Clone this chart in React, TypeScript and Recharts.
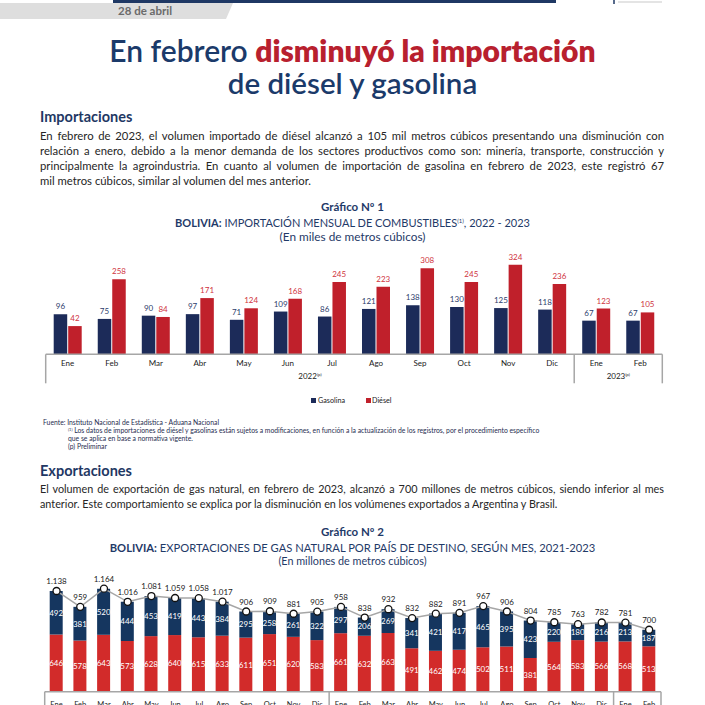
import React from "react";
import {
  BarChart,
  ComposedChart,
  Bar,
  Line,
  XAxis,
  YAxis,
  LabelList,
} from "recharts";

// Gráfico 1: importación mensual de combustibles (miles de m3)
const mesesImp = ["Ene", "Feb", "Mar", "Abr", "May", "Jun", "Jul", "Ago", "Sep", "Oct", "Nov", "Dic", "Ene", "Feb"];
const gasolina = [96, 75, 90, 97, 71, 109, 86, 121, 138, 130, 125, 118, 67, 67];
const diesel = [42, 258, 84, 171, 124, 168, 245, 223, 308, 245, 324, 236, 123, 105];
const aniosImp = [
  { label: "2022", n: 12, p: true },
  { label: "2023", n: 2, p: true },
];

// Gráfico 2: exportación de gas natural por destino (millones de m3)
const mesesExp = [
  "Ene", "Feb", "Mar", "Abr", "May", "Jun", "Jul", "Ago", "Sep", "Oct", "Nov", "Dic",
  "Ene", "Feb", "Mar", "Abr", "May", "Jun", "Jul", "Ago", "Sep", "Oct", "Nov", "Dic",
  "Ene", "Feb",
];
const brasil = [646, 578, 643, 573, 628, 640, 615, 633, 611, 651, 620, 583, 661, 632, 663, 491, 462, 474, 502, 511, 381, 564, 583, 566, 568, 513];
const argentina = [492, 381, 520, 444, 453, 419, 443, 384, 295, 258, 261, 322, 297, 206, 269, 341, 421, 417, 465, 395, 423, 220, 180, 216, 213, 187];
const totalExp = [1138, 959, 1164, 1016, 1081, 1059, 1058, 1017, 906, 909, 881, 905, 958, 838, 932, 832, 882, 891, 967, 906, 804, 785, 763, 782, 781, 700];
const aniosExp = [
  { label: "2021", n: 12, p: false },
  { label: "2022", n: 12, p: true },
  { label: "2023", n: 2, p: true },
];

const NAVY = "#1f3a68";
const RED = "#b8202e";
const FLOOR = -88; // eje del gráfico 1 no parte de cero

const impData = mesesImp.map((mes, i) => ({ mes, gasolina: gasolina[i], diesel: diesel[i] }));
const expData = mesesExp.map((mes, i) => ({
  mes,
  brasil: brasil[i],
  argentina: argentina[i],
  total: totalExp[i],
}));

const fmtMiles = (v: any) => {
  const n = Number(v);
  return n >= 1000 ? `${Math.floor(n / 1000)}.${String(n % 1000).padStart(3, "0")}` : String(n);
};

function GroupTick(props: any) {
  const { x, y, index, payload, groups, bw, boxH, monthDy, yearDy, fs } = props;
  const count = groups.reduce((s: number, g: any) => s + g.n, 0);
  const els: any[] = [];
  let start = 0;
  groups.forEach((g: any, gi: number) => {
    if (index === start) {
      els.push(
        <line key={"l" + gi} x1={x - bw / 2} x2={x - bw / 2} y1={y} y2={y + boxH} stroke="#a6a6a6" strokeWidth={1.5} />
      );
      els.push(
        <text key={"y" + gi} x={x - bw / 2 + (g.n * bw) / 2} y={y + yearDy} textAnchor="middle" fontSize={fs} fill="#222">
          {g.label}
          {g.p ? (
            <tspan fontSize={fs * 0.55} dy={-3}>
              (p)
            </tspan>
          ) : null}
        </text>
      );
    }
    start += g.n;
  });
  if (index === count - 1) {
    els.push(<line key="r" x1={x + bw / 2} x2={x + bw / 2} y1={y} y2={y + boxH} stroke="#a6a6a6" strokeWidth={1.5} />);
  }
  return (
    <g>
      {els}
      <text x={x} y={y + monthDy} textAnchor="middle" fontSize={fs} fill="#222">
        {payload.value}
      </text>
    </g>
  );
}

// texto posicionado por su línea base
function T({ b, fs, left, center, children, style }: any) {
  const s: any = {
    position: "absolute",
    top: b - 0.887 * fs,
    fontSize: fs,
    lineHeight: `${fs}px`,
    whiteSpace: "nowrap",
    ...style,
  };
  if (center) {
    s.left = 0;
    s.width = 705;
    s.textAlign = "center";
  } else {
    s.left = left;
  }
  return <div style={s}>{children}</div>;
}

function Sup({ fs, up, children }: any) {
  return <span style={{ fontSize: fs, position: "relative", top: -up }}>{children}</span>;
}

function Jline({ b, fs, text, last }: any) {
  return (
    <div
      style={{
        position: "absolute",
        left: 40,
        width: 624,
        top: b - 0.887 * fs,
        fontSize: fs,
        lineHeight: `${fs}px`,
        color: "#262626",
        textAlign: last ? "left" : "justify",
        textAlignLast: last ? "left" : "justify",
      }}
    >
      {text}
    </div>
  );
}

const p1 = [
  "En febrero de 2023, el volumen importado de diésel alcanzó a 105 mil metros cúbicos presentando una disminución con",
  "relación a enero, debido a la menor demanda de los sectores productivos como son: minería, transporte, construcción y",
  "principalmente la agroindustria. En cuanto al volumen de importación de gasolina en febrero de 2023, este registró 67",
  "mil metros cúbicos, similar al volumen del mes anterior.",
];
const p2 = [
  "El volumen de exportación de gas natural, en febrero de 2023, alcanzó a 700 millones de metros cúbicos, siendo inferior al mes",
  "anterior. Este comportamiento se explica por la disminución en los volúmenes exportados a Argentina y Brasil.",
];

export default function App() {
  const c1 = { left: 45.7, right: 42.7 };
  const bw1 = (705 - c1.left - c1.right) / mesesImp.length;
  const c2 = { left: 44.7, right: 44 };
  const bw2 = (705 - c2.left - c2.right) / mesesExp.length;

  return (
    <div
      style={{
        position: "fixed",
        left: 0,
        top: 0,
        width: 705,
        height: 705,
        overflow: "hidden",
        background: "#fff",
        fontFamily: "Lato, sans-serif",
        color: NAVY,
      }}
    >
      {/* cabecera */}
      <div style={{ position: "absolute", left: 113, top: 0, width: 443, height: 3, background: "#1f3864" }} />
      <svg width={705} height={22} style={{ position: "absolute", left: 0, top: 0 }}>
        <polygon points="0,3 233,3 226,19 0,19" fill="#dedede" />
        <line x1={614} x2={614} y1={0} y2={4} stroke="#1f3864" strokeWidth={1.5} />
        <line x1={618} x2={662} y1={2} y2={2} stroke="#c9c9c9" strokeWidth={1} />
      </svg>
      <T b={15.5} fs={11.5} left={118} style={{ fontWeight: 700, color: "#6b6b6b" }}>
        28 de abril
      </T>

      <T b={62} fs={30} center>
        <span style={{ color: "#1b3a6a", fontWeight: 600 }}>En febrero </span>
        <span style={{ color: RED, fontWeight: 800 }}>disminuyó la importación</span>
      </T>
      <T b={94} fs={29.5} center style={{ color: "#1b3a6a", fontWeight: 600 }}>
        de diésel y gasolina
      </T>

      <T b={123} fs={14.5} left={40} style={{ fontWeight: 700, color: "#1f3864" }}>
        Importaciones
      </T>
      {p1.map((t, i) => (
        <Jline key={i} b={140 + i * 15} fs={11.3} text={t} last={i === p1.length - 1} />
      ))}

      <T b={211.5} fs={11.5} center style={{ fontWeight: 700 }}>
        Gráfico Nº 1
      </T>
      <T b={226.5} fs={11} center>
        <b>BOLIVIA:</b> IMPORTACIÓN MENSUAL DE COMBUSTIBLES
        <Sup fs={6} up={4}>(1)</Sup>, 2022 - 2023
      </T>
      <T b={241.5} fs={11.8} center>
        (En miles de metros cúbicos)
      </T>

      <div style={{ position: "absolute", left: 0, top: 245 }}>
        <BarChart
          width={705}
          height={145}
          data={impData}
          margin={{ top: 16.4, right: c1.right, bottom: 0, left: c1.left }}
          barSize={13.5}
          barGap={1}
        >
          <XAxis
            dataKey="mes"
            height={35.7}
            interval={0}
            tickSize={0}
            tickMargin={0}
            axisLine={{ stroke: "#a6a6a6", strokeWidth: 1.5 }}
            tick={(p: any) => (
              <GroupTick {...p} groups={aniosImp} bw={bw1} boxH={29} monthDy={12} yearDy={25} fs={8} />
            )}
          />
          <YAxis hide domain={[FLOOR, 340]} />
          <Bar dataKey={(d: any) => [FLOOR, d.gasolina]} fill="#1c2b59" isAnimationActive={false}>
            <LabelList dataKey="gasolina" position="top" fontSize={8} fill="#2d3d6c" />
          </Bar>
          <Bar dataKey={(d: any) => [FLOOR, d.diesel]} fill="#c0202b" isAnimationActive={false}>
            <LabelList dataKey="diesel" position="top" fontSize={8} fill="#cf3340" />
          </Bar>
        </BarChart>
      </div>

      {/* leyenda gráfico 1 */}
      <div style={{ position: "absolute", left: 311, top: 398, width: 5, height: 5, background: "#1c2b59" }} />
      <T b={403.5} fs={7.2} left={318} style={{ color: "#222" }}>
        Gasolina
      </T>
      <div style={{ position: "absolute", left: 366, top: 398, width: 5, height: 5, background: "#c0202b" }} />
      <T b={403.5} fs={7.2} left={372} style={{ color: "#222" }}>
        Diésel
      </T>

      <T b={425.5} fs={6.8} left={43} style={{ color: "#1f2d50" }}>
        Fuente: Instituto Nacional de Estadística - Aduana Nacional
      </T>
      <T b={433.5} fs={6.8} left={68} style={{ color: "#1f2d50" }}>
        <Sup fs={4} up={2.5}>(1)</Sup> Los datos de importaciones de diésel y gasolinas están sujetos a modificaciones, en
        función a la actualización de los registros, por el procedimiento específico
      </T>
      <T b={441.5} fs={6.8} left={68} style={{ color: "#1f2d50" }}>
        que se aplica en base a normativa vigente.
      </T>
      <T b={449.5} fs={6.8} left={68} style={{ color: "#1f2d50" }}>
        (p) Preliminar
      </T>

      <T b={477} fs={14.5} left={40} style={{ fontWeight: 700, color: "#1f3864" }}>
        Exportaciones
      </T>
      {p2.map((t, i) => (
        <Jline key={i} b={494 + i * 15} fs={10.8} text={t} last={i === p2.length - 1} />
      ))}

      <T b={536.5} fs={11.5} center style={{ fontWeight: 700 }}>
        Gráfico Nº 2
      </T>
      <T b={551.5} fs={11.2} center>
        <b>BOLIVIA:</b> EXPORTACIONES DE GAS NATURAL POR PAÍS DE DESTINO, SEGÚN MES, 2021-2023
      </T>
      <T b={566} fs={10.8} center>
        (En millones de metros cúbicos)
      </T>

      <div style={{ position: "absolute", left: 0, top: 565 }}>
        <ComposedChart
          width={705}
          height={160}
          data={expData}
          margin={{ top: 20.5, right: c2.right, bottom: 0, left: c2.left }}
          barSize={13}
        >
          <XAxis
            dataKey="mes"
            height={33.3}
            interval={0}
            tickSize={0}
            tickMargin={0}
            axisLine={{ stroke: "#a6a6a6", strokeWidth: 1.5 }}
            tick={(p: any) => (
              <GroupTick {...p} groups={aniosExp} bw={bw2} boxH={30} monthDy={15} yearDy={27} fs={7.5} />
            )}
          />
          <YAxis hide domain={[0, 1200]} />
          <Bar dataKey="brasil" stackId="a" fill="#d22b2a" isAnimationActive={false}>
            <LabelList dataKey="brasil" position="center" fontSize={8} fill="#fff" />
          </Bar>
          <Bar dataKey="argentina" stackId="a" fill="#15365f" isAnimationActive={false}>
            <LabelList dataKey="argentina" position="center" fontSize={8} fill="#fff" />
          </Bar>
          <Line
            type="linear"
            dataKey="total"
            stroke="#a6a6a6"
            strokeWidth={1.5}
            dot={{ r: 3.5, fill: "#fff", stroke: "#111", strokeWidth: 1.3 }}
            isAnimationActive={false}
          >
            <LabelList dataKey="total" position="top" offset={7} fontSize={8} fill="#1a1a1a" formatter={fmtMiles} />
          </Line>
        </ComposedChart>
      </div>
    </div>
  );
}
